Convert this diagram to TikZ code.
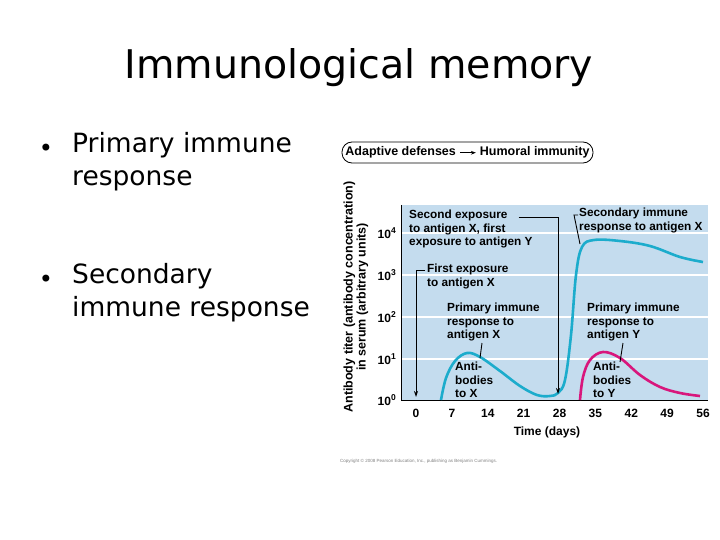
\documentclass[tikz,border=0pt]{standalone}
\usepackage{fontspec}
\setmainfont{DejaVu Sans}
\newfontfamily\gf{Liberation Sans}
\usetikzlibrary{arrows.meta}
\definecolor{bgb}{RGB}{196,220,238}
\definecolor{cur}{RGB}{28,172,204}
\definecolor{pnk}{RGB}{216,22,124}
\tikzset{
 lbl/.style={font=\gf\bfseries\fontsize{11.8}{13.6}\selectfont,anchor=north west,align=left,inner sep=0pt},
 tick/.style={font=\gf\bfseries\fontsize{12}{13}\selectfont,inner sep=0pt},
 lead/.style={line width=0.9pt},
 leadar/.style={line width=0.9pt,-{Stealth[length=6pt,width=4pt]}},
 bul/.style={font=\fontsize{26.5}{33}\selectfont,anchor=north west,align=left,inner sep=0pt}
}
\newcommand\tp[1]{10\raisebox{4.5pt}{\fontsize{8.5}{9}\selectfont #1}}
\begin{document}
\begin{tikzpicture}[x=1pt,y=-1pt]
\useasboundingbox (0,0) rectangle (720,540);
\fill[white] (0,0) rectangle (720,540);
\node[font=\fontsize{39.5}{44}\selectfont] (title) at (359,68) {Immunological memory};
\node at (46,150) {\fontsize{24}{24}\selectfont •};
\node[bul] (b1) at (72,132) {Primary immune\\response};
\node at (46,281) {\fontsize{24}{24}\selectfont •};
\node[bul] (b2) at (72,263) {Secondary\\immune response};
% header
\node[draw,rounded corners=10pt,line width=0.8pt,minimum width=251pt,minimum height=21pt,inner sep=0pt,font=\gf\bfseries\fontsize{12.5}{14}\selectfont] (hdr) at (467.5,152.5) {Adaptive defenses \tikz[baseline=-3pt]\draw[line width=1pt,-{Stealth[length=5pt]}](0,0)--(16pt,0); Humoral immunity};
% plot
\fill[bgb] (401,205) rectangle (708,400);
\foreach \y in {233,275,317,359} \draw[white,line width=1.2pt] (401,\y)--(708,\y);
\draw[line width=0.9pt] (401,205)--(401,400)--(708,400);
\foreach \e/\y in {4/233,3/275,2/317,1/359,0/400} \node[tick,anchor=east] at (396,\y) {\tp{\e}};
\foreach \d in {0,7,...,56} \node[tick] at ({416+\d*5.125},413) {\d};
\node[font=\gf\bfseries\fontsize{12}{13}\selectfont] (xl) at (547,432) {Time (days)};
\node[rotate=90,align=center,font=\gf\bfseries\fontsize{12.5}{13}\selectfont] (yl) at (356,297) {Antibody titer (antibody concentration)\\in serum (arbitrary units)};
% curves
\draw[cur,line width=2.6pt] plot[smooth,tension=0.6] coordinates {(441,400) (446,378) (455,361) (467,353) (480,357) (500,371) (520,386) (537,395) (550,396) (558,393) (565,380) (571,335) (576,275) (582,247) (594,240) (620,241) (650,246) (680,257) (703,262)};
\draw[pnk,line width=2.6pt] plot[smooth,tension=0.6] coordinates {(580,400) (583,377) (590,360) (603,352) (620,358) (640,375) (660,387) (680,393) (700,396)};
% labels
\node[lbl] (se) at (409,210) {Second exposure\\to antigen X, first\\exposure to antigen Y};
\node[lbl] (si) at (579,208) {Secondary immune\\response to antigen X};
\node[lbl] (fe) at (427,264) {First exposure\\to antigen X};
\node[lbl] (px) at (447,303) {Primary immune\\response to\\antigen X};
\node[lbl] (py) at (587,303) {Primary immune\\response to\\antigen Y};
\node[lbl] (ax) at (455,362) {Anti-\\bodies\\to X};
\node[lbl] (ay) at (593,362) {Anti-\\bodies\\to Y};
% leaders
\coordinate (c1) at (416,397);
\coordinate (c2) at (558,394);
\coordinate (c3) at (580,244);
\coordinate (c4) at (480,358);
\coordinate (c5) at (620,362);
\draw[leadar] (fe.west |- 0,270) ++(-2,0) -- (416,270) -- (c1);
\draw[leadar] (se.north east |- 0,217) ++(-14,0) -- (558,217) -- (c2);
\draw[lead] (si.west |- 0,215) ++(-1,0) -- (574,215) -- (c3);
\draw[lead] (482,343) -- (c4);
\draw[lead] (623,343) -- (c5);
\node[anchor=west,text=gray,font=\gf\fontsize{4.5}{5}\selectfont,inner sep=0pt] (cp) at (340,461) {Copyright © 2008 Pearson Education, Inc., publishing as Benjamin Cummings.};
\end{tikzpicture}
\end{document}
